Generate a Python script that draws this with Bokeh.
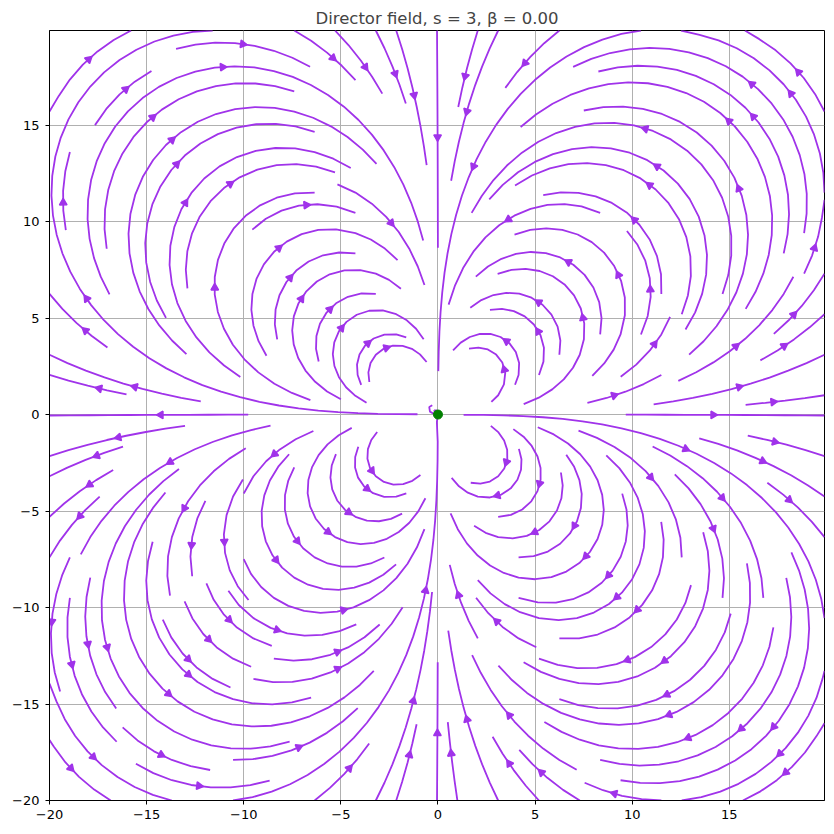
import numpy as np
from bokeh.plotting import figure
from bokeh.models import Range1d, FixedTicker
from bokeh.embed import file_html
from bokeh.resources import INLINE

# ---------------- data ----------------
S_CHARGE = 3          # defect strength s
BETA = 0.0            # phase offset beta
GRID_START = -20.0
GRID_STOP = 20.0
GRID_STEP = 0.1
DENSITY = 1.3
TITLE = "Director field, s = 3, \u03b2 = 0.00"
X_TICKS = [-20, -15, -10, -5, 0, 5, 10, 15]
Y_TICKS = [-20, -15, -10, -5, 0, 5, 10, 15]
DEFECT_X = [0.0]
DEFECT_Y = [0.0]

LINE_COLOR = "#a033ea"

# ---------------- director field on grid ----------------
xs = np.arange(GRID_START, GRID_STOP, GRID_STEP)
ys = np.arange(GRID_START, GRID_STOP, GRID_STEP)
XX, YY = np.meshgrid(xs, ys)
THETA = np.arctan2(YY, XX)
U = np.cos(S_CHARGE * THETA + BETA)
V = np.sin(S_CHARGE * THETA + BETA)


# ---------------- streamline integration (matplotlib-style) ----------------
class _Invalid(Exception):
    pass


class _OutOfBounds(Exception):
    pass


class _Terminate(Exception):
    pass


def stream_trajectories(x, y, u, v, density=1, minlength=0.1, maxlength=4.0):
    nx, ny = len(x), len(y)
    dx = x[1] - x[0]
    dy = y[1] - y[0]
    mnx = mny = int(30 * density)
    mask = np.zeros((mny, mnx))
    xg2m = (mnx - 1) / (nx - 1)
    yg2m = (mny - 1) / (ny - 1)
    xm2g = 1.0 / xg2m
    ym2g = 1.0 / yg2m
    ug = u / dx
    vg = v / dy
    speed = np.sqrt((ug / (nx - 1)) ** 2 + (vg / (ny - 1)) ** 2)
    ugl = ug.tolist()
    vgl = vg.tolist()
    spl = speed.tolist()
    state = {"traj": [], "cur": None}

    def within(xi, yi):
        return 0 <= xi <= nx - 1 and 0 <= yi <= ny - 1

    def g2m(xi, yi):
        return round(xi * xg2m), round(yi * yg2m)

    def mask_update(xm, ym):
        if state["cur"] != (xm, ym):
            if mask[ym, xm] == 0:
                state["traj"].append((ym, xm))
                mask[ym, xm] = 1
                state["cur"] = (xm, ym)
            else:
                raise _Invalid

    def start_traj(xg, yg):
        xm, ym = g2m(xg, yg)
        state["traj"] = []
        mask_update(xm, ym)

    def reset_start(xg, yg):
        state["cur"] = g2m(xg, yg)

    def update_traj(xg, yg):
        if not within(xg, yg):
            raise _Invalid
        xm, ym = g2m(xg, yg)
        mask_update(xm, ym)

    def undo():
        for t in state["traj"]:
            mask[t] = 0

    def interp(a, xi, yi):
        xq = int(xi)
        yq = int(yi)
        xn = xq if xq == nx - 1 else xq + 1
        yn = yq if yq == ny - 1 else yq + 1
        xt = xi - xq
        yt = yi - yq
        a0 = a[yq][xq] * (1 - xt) + a[yq][xn] * xt
        a1 = a[yn][xq] * (1 - xt) + a[yn][xn] * xt
        return a0 * (1 - yt) + a1 * yt

    def fwd(xi, yi):
        if not within(xi, yi):
            raise _OutOfBounds
        ds_dt = interp(spl, xi, yi)
        if ds_dt == 0:
            raise _Terminate
        dt_ds = 1.0 / ds_dt
        return interp(ugl, xi, yi) * dt_ds, interp(vgl, xi, yi) * dt_ds

    def bwd(xi, yi):
        a, b = fwd(xi, yi)
        return -a, -b

    def euler(traj, f):
        xi, yi = traj[-1]
        cx, cy = f(xi, yi)
        if cx == 0:
            dsx = np.inf
        elif cx < 0:
            dsx = xi / -cx
        else:
            dsx = (nx - 1 - xi) / cx
        if cy == 0:
            dsy = np.inf
        elif cy < 0:
            dsy = yi / -cy
        else:
            dsy = (ny - 1 - yi) / cy
        ds = min(dsx, dsy)
        traj.append((xi + cx * ds, yi + cy * ds))
        return ds, traj

    def rk12(x0, y0, f):
        maxerror = 0.003
        maxds = min(1.0 / mnx, 1.0 / mny, 0.1)
        ds = maxds
        stotal = 0.0
        xi, yi = x0, y0
        traj = []
        while True:
            try:
                if within(xi, yi):
                    traj.append((xi, yi))
                else:
                    raise _OutOfBounds
                k1x, k1y = f(xi, yi)
                k2x, k2y = f(xi + ds * k1x, yi + ds * k1y)
            except _OutOfBounds:
                if traj:
                    d, traj = euler(traj, f)
                    stotal += d
                break
            except _Terminate:
                break
            dx1 = ds * k1x
            dy1 = ds * k1y
            dx2 = ds * 0.5 * (k1x + k2x)
            dy2 = ds * 0.5 * (k1y + k2y)
            err = np.hypot((dx2 - dx1) / (nx - 1), (dy2 - dy1) / (ny - 1))
            if err < maxerror:
                xi += dx2
                yi += dy2
                try:
                    update_traj(xi, yi)
                except _Invalid:
                    break
                if stotal + ds > maxlength:
                    break
                stotal += ds
            if err == 0:
                ds = maxds
            else:
                ds = min(maxds, 0.85 * ds * (maxerror / err) ** 0.5)
        return stotal, traj

    def integrate(x0, y0):
        stotal = 0.0
        xy = []
        try:
            start_traj(x0, y0)
        except _Invalid:
            return None
        s, t = rk12(x0, y0, bwd)
        stotal += s
        xy += t[::-1]
        reset_start(x0, y0)
        s, t = rk12(x0, y0, fwd)
        stotal += s
        xy += t[1:]
        if stotal > minlength:
            return np.array(xy)
        undo()
        return None

    def starting_points():
        xfirst, yfirst = 0, 1
        xlast, ylast = mnx - 1, mny - 1
        px, py = 0, 0
        direction = "right"
        for _ in range(mnx * mny):
            yield px, py
            if direction == "right":
                px += 1
                if px >= xlast:
                    xlast -= 1
                    direction = "up"
            elif direction == "up":
                py += 1
                if py >= ylast:
                    ylast -= 1
                    direction = "left"
            elif direction == "left":
                px -= 1
                if px <= xfirst:
                    xfirst += 1
                    direction = "down"
            elif direction == "down":
                py -= 1
                if py <= yfirst:
                    yfirst += 1
                    direction = "right"

    out = []
    for xm, ym in starting_points():
        if mask[ym, xm] == 0:
            t = integrate(xm * xm2g, ym * ym2g)
            if t is not None:
                tx = t[:, 0] * dx + x[0]
                ty = t[:, 1] * dy + y[0]
                out.append((tx, ty))
    return out


trajs = stream_trajectories(xs, ys, U, V, density=DENSITY)
# drop degenerate curls trapped at the singular point (hidden under the defect marker in the original)
trajs = [(tx, ty) for tx, ty in trajs
         if max(np.ptp(tx), np.ptp(ty)) > 0.9]

# ---------------- figure ----------------
FRAME_W, FRAME_H = 775, 770
X0, X1 = float(xs[0]), float(xs[-1])
Y0, Y1 = float(ys[0]), float(ys[-1])
pxu_x = FRAME_W / (X1 - X0)
pxu_y = FRAME_H / (Y1 - Y0)

line_xs, line_ys = [], []
arr_x, arr_y, arr_a = [], [], []
for tx, ty in trajs:
    line_xs.append(tx.tolist())
    line_ys.append(ty.tolist())
    seg = np.cumsum(np.hypot(np.diff(tx), np.diff(ty)))
    n = int(np.searchsorted(seg, seg[-1] / 2.0))
    tail = (tx[n], ty[n])
    head = (np.mean(tx[n:n + 2]), np.mean(ty[n:n + 2]))
    ddx = (head[0] - tail[0]) * pxu_x
    ddy = (head[1] - tail[1]) * pxu_y
    ang = np.arctan2(ddy, ddx)
    back = 2.0  # px, centroid slightly behind the head point
    arr_x.append(head[0] - back * np.cos(ang) / pxu_x)
    arr_y.append(head[1] - back * np.sin(ang) / pxu_y)
    arr_a.append(ang - np.pi / 2)

p = figure(frame_width=FRAME_W, frame_height=FRAME_H,
           x_range=Range1d(X0, X1), y_range=Range1d(Y0, Y1),
           output_backend="svg", toolbar_location=None, title=TITLE,
           min_border_left=49, min_border_top=30, min_border_right=8,
           min_border_bottom=30)

p.title.text_font = "DejaVu Sans"
p.title.text_font_size = "16.5px"
p.title.text_font_style = "normal"
p.title.align = "center"
p.title.standoff = 6

p.outline_line_color = "black"
p.outline_line_width = 1
p.outline_line_alpha = 1
p.background_fill_color = "white"
p.border_fill_color = "white"

for ax, ticks, stand in ((p.xaxis, X_TICKS, 5), (p.yaxis, Y_TICKS, 6)):
    ax.ticker = FixedTicker(ticks=ticks)
    ax.major_label_overrides = {t: (("\u2212" + str(abs(t))) if t < 0 else str(t)) for t in ticks}
    ax.major_tick_in = 0
    ax.major_tick_out = 4
    ax.minor_tick_line_color = None
    ax.axis_line_color = "black"
    ax.major_tick_line_color = "black"
    ax.major_label_text_font = "DejaVu Sans"
    ax.major_label_text_font_size = "13px"
    ax.major_label_text_color = "black"
    ax.major_label_standoff = stand

p.xgrid.ticker = FixedTicker(ticks=X_TICKS)
p.ygrid.ticker = FixedTicker(ticks=Y_TICKS)
p.grid.grid_line_color = "#b0b0b0"
p.grid.grid_line_width = 1

p.multi_line(xs=line_xs, ys=line_ys, line_color=LINE_COLOR, line_width=1.8)
p.scatter(x=arr_x, y=arr_y, angle=arr_a, marker="triangle", size=7.5,
          fill_color=LINE_COLOR, line_color=LINE_COLOR, line_width=1.5)
p.scatter(x=DEFECT_X, y=DEFECT_Y, marker="circle", size=9,
          fill_color="#008000", line_color="#008000")

open("out.html", "w").write(file_html(p, INLINE))
